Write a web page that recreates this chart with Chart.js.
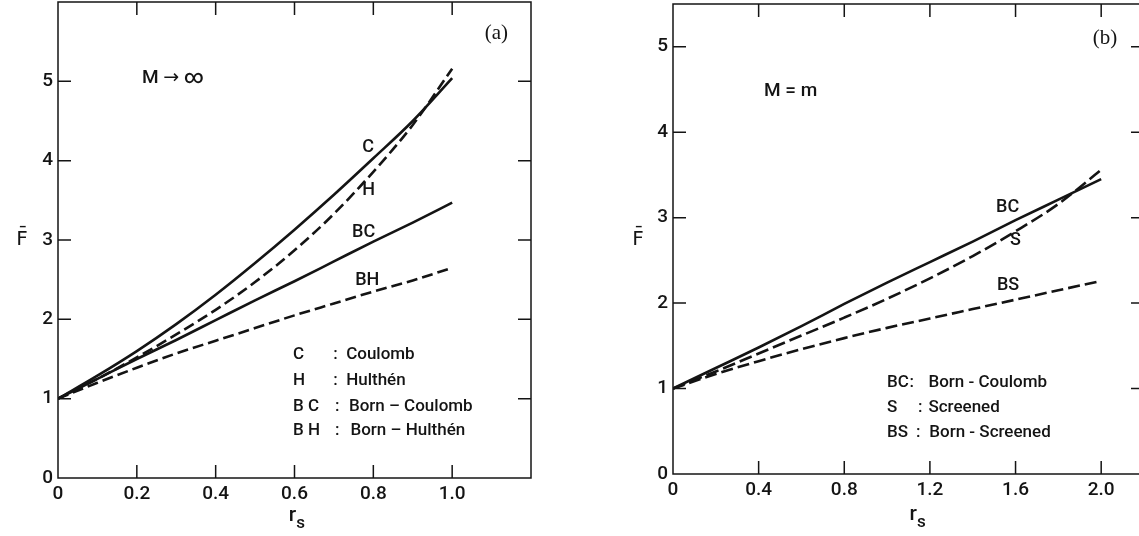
<!DOCTYPE html>
<html>
<head>
<meta charset="utf-8">
<title>F vs rs</title>
<script src="https://cdn.jsdelivr.net/npm/chart.js@4.4.1/dist/chart.umd.min.js"></script>
<style>
  html, body { margin: 0; padding: 0; background: #fff; }
  body { width: 1139px; height: 536px; overflow: hidden; position: relative; }
  canvas { position: absolute; top: 0; }
  #chartA { left: 0; }
  #chartB { left: 600px; }
</style>
</head>
<body>
<canvas id="chartA" width="560" height="536"></canvas>
<canvas id="chartB" width="560" height="536"></canvas>
<script>
// ---- Data ----

// panel (a): M -> infinity
const rsA = [0, 0.1, 0.2, 0.3, 0.4, 0.5, 0.6, 0.7, 0.8, 0.9, 1.0];
const coulombA = [1.00, 1.29, 1.60, 1.94, 2.31, 2.71, 3.13, 3.57, 4.03, 4.50, 5.04];
const hulthenA = [1.00, 1.25, 1.52, 1.81, 2.12, 2.47, 2.87, 3.33, 3.86, 4.45, 5.16];
const bornCoulombA = [1.00, 1.25, 1.50, 1.74, 1.99, 2.24, 2.48, 2.73, 2.98, 3.22, 3.47];
const bornHulthenA = [1.00, 1.20, 1.39, 1.57, 1.73, 1.89, 2.05, 2.20, 2.35, 2.49, 2.65];
const xLabelsA = ['0', '0.2', '0.4', '0.6', '0.8', '1.0'];
const yLabelsA = ['0', '1', '2', '3', '4', '5'];

// panel (b): M = m
const rsB = [0, 0.2, 0.4, 0.6, 0.8, 1.0, 1.2, 1.4, 1.6, 1.8, 2.0];
const bornCoulombB = [1.00, 1.24, 1.48, 1.73, 1.99, 2.24, 2.48, 2.72, 2.97, 3.21, 3.45];
const screenedB = [1.00, 1.20, 1.41, 1.62, 1.83, 2.05, 2.29, 2.55, 2.84, 3.16, 3.56];
const bornScreenedB = [1.00, 1.17, 1.32, 1.46, 1.59, 1.71, 1.82, 1.93, 2.04, 2.15, 2.26];
const xLabelsB = ['0', '0.4', '0.8', '1.2', '1.6', '2.0'];
const yLabelsB = ['0', '1', '2', '3', '4', '5'];

// ---- Style ----
const INK = '#141414';
const FAMILY = 'Roboto, "DejaVu Sans", sans-serif';

function toPoints(xs, ys) {
  return xs.map((x, i) => ({ x, y: ys[i] }));
}

function curve(xs, ys, dash) {
  return {
    data: toPoints(xs, ys),
    showLine: true,
    borderColor: INK,
    borderWidth: 2.6,
    borderDash: dash || [],
    pointRadius: 0,
    tension: 0.4,
    cubicInterpolationMode: 'monotone',
    fill: false,
  };
}

// frame, inward ticks, curve labels and axis titles
function decorPlugin(cfg) {
  return {
    id: 'decor',
    afterDraw(chart) {
      const { ctx, chartArea: a, scales: { x, y } } = chart;
      const L = cfg.tickLen;
      ctx.save();
      ctx.strokeStyle = INK;
      ctx.lineWidth = 1.5;
      ctx.strokeRect(a.left, a.top, a.right - a.left, a.bottom - a.top);

      ctx.beginPath();
      x.ticks.forEach((t) => {
        if (t.value <= x.min + 1e-9 || t.value >= x.max - 1e-9) return;
        const px = x.getPixelForValue(t.value);
        ctx.moveTo(px, a.bottom); ctx.lineTo(px, a.bottom - L);
        ctx.moveTo(px, a.top); ctx.lineTo(px, a.top + L);
      });
      y.ticks.forEach((t) => {
        if (t.value <= y.min + 1e-9 || t.value >= y.max - 1e-9) return;
        const py = y.getPixelForValue(t.value);
        ctx.moveTo(a.left, py); ctx.lineTo(a.left + L, py);
        ctx.moveTo(a.right, py); ctx.lineTo(a.right - L, py);
      });
      ctx.stroke();

      ctx.fillStyle = INK;
      ctx.textBaseline = 'middle';
      cfg.notes.forEach((n) => {
        ctx.font = n.font || `500 17px ${FAMILY}`;
        ctx.textAlign = n.align || 'left';
        ctx.fillText(n.text, x.getPixelForValue(n.x), y.getPixelForValue(n.y));
      });

      // y title: F with a bar
      ctx.font = `500 20px ${FAMILY}`;
      ctx.textAlign = 'center';
      ctx.fillText('F\u0304', a.left - cfg.fDx, y.getPixelForValue(cfg.fY));

      // x title: r with subscript s
      const rx = x.getPixelForValue(cfg.rX);
      const ry = a.bottom + cfg.rDy;
      ctx.font = `500 21px ${FAMILY}`;
      ctx.textAlign = 'right';
      ctx.fillText('r', rx + 4, ry);
      ctx.font = `500 17px ${FAMILY}`;
      ctx.textAlign = 'left';
      ctx.fillText('s', rx + 4, ry + 8);
      ctx.restore();
    },
  };
}

function scaleOpts(min, max, labels, padding, fixed, axis) {
  const values = labels.map(Number);
  return {
    type: 'linear',
    min,
    max,
    grid: { display: false, drawTicks: false },
    border: { display: false },
    afterBuildTicks(scale) {
      scale.ticks = values.map((v) => ({ value: v }));
    },
    ticks: {
      autoSkip: false,
      maxRotation: 0,
      padding,
      color: INK,
      font: { family: FAMILY, size: 19, weight: '500' },
      callback: (v, i) => (labels[i] !== undefined ? labels[i] : ''),
    },
    afterFit(scale) {
      if (axis === 'x') {
        scale.height = fixed;
        scale.paddingLeft = 0;
        scale.paddingRight = 0;
      } else {
        scale.width = fixed;
        scale.paddingTop = 0;
        scale.paddingBottom = 0;
      }
    },
  };
}

function baseOptions(layoutPad, xScale, yScale) {
  return {
    responsive: false,
    animation: false,
    devicePixelRatio: 1,
    layout: { padding: layoutPad },
    plugins: { legend: { display: false }, tooltip: { enabled: false } },
    scales: { x: xScale, y: yScale },
  };
}

// ---- Panel (a) ----
function drawPanelA() {
  const canvas = document.getElementById('chartA');
  const fontA = `500 17px ${FAMILY}`;
  const curveFont = `500 18px ${FAMILY}`;
  new Chart(canvas.getContext('2d'), {
    type: 'scatter',
    data: {
      datasets: [
        curve(rsA, coulombA),
        curve(rsA, hulthenA, [11, 5]),
        curve(rsA, bornCoulombA),
        curve(rsA, bornHulthenA, [11, 5]),
      ],
    },
    options: baseOptions(
      { left: 0, right: 29, top: 2, bottom: 0 },
      scaleOpts(0, 1.2, xLabelsA, 5, 58, 'x'),
      scaleOpts(0, 6, yLabelsA, 5, 58, 'y')
    ),
    plugins: [decorPlugin({
      tickLen: 13,
      fDx: 36, fY: 3.0,
      rX: 0.594, rDy: 38,
      notes: [
        { text: '(a)', x: 1.112, y: 5.6, align: 'center', font: `21px "Liberation Serif", serif` },
        { text: 'M \u2192 \u221E', x: 0.213, y: 5.04, font: `500 19px ${FAMILY}` },
        { text: 'C', x: 0.772, y: 4.17, font: curveFont },
        { text: 'H', x: 0.772, y: 3.62, font: curveFont },
        { text: 'BC', x: 0.746, y: 3.09, font: curveFont },
        { text: 'BH', x: 0.754, y: 2.49, font: curveFont },
        { text: 'C', x: 0.596, y: 1.55, font: fontA },
        { text: ':', x: 0.698, y: 1.55, font: fontA },
        { text: 'Coulomb', x: 0.731, y: 1.55, font: fontA },
        { text: 'H', x: 0.596, y: 1.23, font: fontA },
        { text: ':', x: 0.698, y: 1.23, font: fontA },
        { text: 'Hulthén', x: 0.731, y: 1.23, font: fontA },
        { text: 'B C', x: 0.596, y: 0.90, font: fontA },
        { text: ':', x: 0.703, y: 0.90, font: fontA },
        { text: 'Born \u2013 Coulomb', x: 0.738, y: 0.90, font: fontA },
        { text: 'B H', x: 0.596, y: 0.59, font: fontA },
        { text: ':', x: 0.703, y: 0.59, font: fontA },
        { text: 'Born \u2013 Hulthén', x: 0.742, y: 0.59, font: fontA },
      ],
    })],
  });
}

// ---- Panel (b) ----
function drawPanelB() {
  const canvas = document.getElementById('chartB');
  const fontB = `500 17px ${FAMILY}`;
  const curveFont = `500 18px ${FAMILY}`;
  new Chart(canvas.getContext('2d'), {
    type: 'scatter',
    data: {
      datasets: [
        curve(rsB, bornCoulombB),
        curve(rsB, screenedB, [13, 5]),
        curve(rsB, bornScreenedB, [12, 5]),
      ],
    },
    options: baseOptions(
      { left: 0, right: 16, top: 4, bottom: 0 },
      scaleOpts(0, 2.2, xLabelsB, 5, 62, 'x'),
      scaleOpts(0, 5.5, yLabelsB, 5, 73, 'y')
    ),
    plugins: [decorPlugin({
      tickLen: 13,
      fDx: 35, fY: 2.74,
      rX: 1.121, rDy: 41,
      notes: [
        { text: '(b)', x: 2.018, y: 5.10, align: 'center', font: `21px "Liberation Serif", serif` },
        { text: 'M = m', x: 0.425, y: 4.48, font: `500 19px ${FAMILY}` },
        { text: 'BC', x: 1.509, y: 3.12, font: curveFont },
        { text: 'S', x: 1.574, y: 2.73, font: curveFont },
        { text: 'BS', x: 1.513, y: 2.21, font: curveFont },
        { text: 'BC', x: 1.0, y: 1.07, font: fontB },
        { text: ':', x: 1.105, y: 1.07, font: fontB },
        { text: 'Born - Coulomb', x: 1.193, y: 1.07, font: fontB },
        { text: 'S', x: 1.0, y: 0.77, font: fontB },
        { text: ':', x: 1.144, y: 0.77, font: fontB },
        { text: 'Screened', x: 1.193, y: 0.77, font: fontB },
        { text: 'BS', x: 1.0, y: 0.48, font: fontB },
        { text: ':', x: 1.135, y: 0.48, font: fontB },
        { text: 'Born - Screened', x: 1.197, y: 0.48, font: fontB },
      ],
    })],
  });
}

drawPanelA();
drawPanelB();
</script>
</body>
</html>
